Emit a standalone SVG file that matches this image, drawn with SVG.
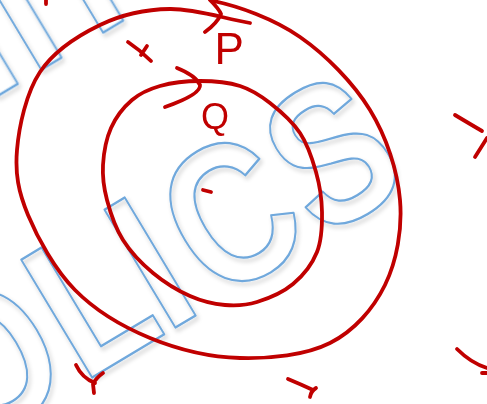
<svg xmlns="http://www.w3.org/2000/svg" width="487" height="404" viewBox="0 0 487 404">
<defs>
<filter id="sh" x="-20%" y="-20%" width="140%" height="140%"><feDropShadow dx="2" dy="3" stdDeviation="2" flood-color="#000" flood-opacity="0.22"/></filter>
<style>
.wm{font-family:"Liberation Sans",Arial,sans-serif;font-weight:bold;font-size:200px;fill:none;stroke:#6fa8dc;stroke-width:2.3;stroke-linejoin:round}
.ink{fill:none;stroke:#c00000;stroke-width:3.8;stroke-linecap:round;stroke-linejoin:round}
.lbl{font-family:"Liberation Sans",Arial,sans-serif;fill:#c00000}
</style>
</defs>
<rect width="487" height="404" fill="#fff"/>
<g id="watermark" filter="url(#sh)">
<text class="wm" transform="translate(93,377) rotate(-31) scale(0.82,1)" x="-176.6 -14.6 103.7 174.1 323" y="0">OLICS</text>
<text class="wm" transform="translate(93,377) rotate(-31) scale(0.82,1)" x="63.4 125.6 213.4" y="-290">III</text>
</g>
<g id="connectors">
<path id="outer" class="ink" d="M213,1 C238,6 273.8,18.8 300,37 C326.2,55.2 353.3,82.8 370,110 C386.7,137.2 397.5,170.8 400,200 C402.5,229.2 396.7,261.2 385,285 C373.3,308.8 354.2,330.8 330,343 C305.8,355.2 270,358.8 240,358 C210,357.2 177.5,349.3 150,338 C122.5,326.7 95.3,310.5 75,290 C54.7,269.5 37.7,238.3 28,215 C18.3,191.7 15,173.8 17,150 C19,126.2 26.2,92.8 40,72 C53.8,51.2 78.3,35.5 100,25 C121.7,14.5 145,9.3 170,9 C195,8.7 223.3,18.3 250,23"/>
<path id="outer-arrow" class="ink" d="M210,0 C215,5 219,9 221,14 C218,21 212,27 205,32"/>
<path id="inner" class="ink" d="M200,81 C213.3,81 228.3,82.3 240,86 C251.7,89.7 260,95.2 270,103 C280,110.8 292.3,121.5 300,133 C307.7,144.5 312.3,158.8 316,172 C319.7,185.2 321.8,198.7 322,212 C322.2,225.3 321.8,240 317,252 C312.2,264 303,275.7 293,284 C283,292.3 268.3,298.5 257,302 C245.7,305.5 236.2,306 225,305 C213.8,304 202,301.3 190,296 C178,290.7 164.2,282.3 153,273 C141.8,263.7 130.7,252.2 123,240 C115.3,227.8 110.3,212.5 107,200 C103.7,187.5 102.3,177 103,165 C103.7,153 106.2,138.8 111,128 C115.8,117.2 123.8,107 132,100 C140.2,93 148.7,89.2 160,86 C171.3,82.8 186.7,81 200,81 Z"/>
<path id="inner-arrow" class="ink" d="M177,68 C187,72 197,78 200,85 C201,92 185,100 165,107"/>
</g>
<g id="label-P"><text class="lbl" x="214.5" y="64" font-size="44">P</text></g>
<g id="label-Q"><text class="lbl" x="201" y="129" font-size="36">Q</text></g>
<g id="marks">
<path class="ink" d="M128,42 Q140,50 151,61 M147,46 L141,55"/>
<path class="ink" d="M455,115 Q470,124 482,131 M487,138 L475,157"/>
<path class="ink" d="M288,379 Q300,384 313,390 M316,388 Q311,391 310,397"/>
<path class="ink" d="M457,349 C466,358 474,364 487,368 M482,373 L487,373"/>
<path class="ink" d="M76,365 Q82,378 95,383 M103,373 Q96,378 93,384 L94,393"/>
<path class="ink" d="M203,190 L211,192"/>
<path class="ink" d="M46,0 L46,4"/>
</g>
</svg>
